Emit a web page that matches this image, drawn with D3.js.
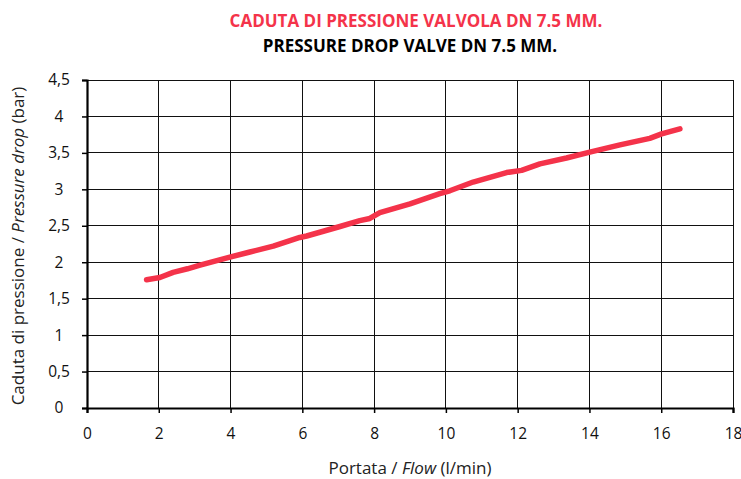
<!DOCTYPE html>
<html>
<head>
<meta charset="utf-8">
<script src="https://cdn.jsdelivr.net/npm/d3@7"></script>
<style>
  body { margin: 0; background: #fff; }
  svg { display: block; font-family: "Open Sans", "Noto Sans", sans-serif; }
</style>
</head>
<body>
<svg id="chart" width="741" height="479"></svg>
<script>
const titleIt = "CADUTA DI PRESSIONE VALVOLA DN 7.5 MM.";
const titleEn = "PRESSURE DROP VALVE DN 7.5 MM.";
const flow = [1.66, 2.03, 2.40, 2.80, 3.15, 3.98, 4.54, 5.19, 5.93, 6.12, 7.05, 7.60, 7.88, 8.16, 9.00, 9.83, 10.11, 10.76, 11.69, 12.11, 12.62, 13.36, 14.01, 14.85, 15.68, 16.01, 16.52];
const pressure = [1.76, 1.79, 1.86, 1.91, 1.96, 2.07, 2.14, 2.22, 2.34, 2.36, 2.49, 2.57, 2.60, 2.68, 2.80, 2.94, 2.98, 3.10, 3.23, 3.26, 3.35, 3.43, 3.51, 3.61, 3.70, 3.76, 3.83];
const xTicks = [0, 2, 4, 6, 8, 10, 12, 14, 16, 18];
const yTicks = [0, 0.5, 1, 1.5, 2, 2.5, 3, 3.5, 4, 4.5];

const svg = d3.select("#chart");
const x = d3.scaleLinear().domain([0, 18]).range([87, 733]);
const y = d3.scaleLinear().domain([0, 4.5]).range([408, 80]);
const fmt = v => String(v).replace(".", ",");

// grid
svg.append("g").selectAll("line").data(xTicks.slice(1)).join("line")
  .attr("x1", d => x(d)).attr("x2", d => x(d)).attr("y1", y(0)).attr("y2", y(4.5))
  .attr("stroke", "#111").attr("stroke-width", 1).attr("shape-rendering", "crispEdges");
svg.append("g").selectAll("line").data(yTicks.slice(1)).join("line")
  .attr("x1", x(0)).attr("x2", x(18)).attr("y1", d => y(d)).attr("y2", d => y(d))
  .attr("stroke", "#111").attr("stroke-width", 1).attr("shape-rendering", "crispEdges");

// axes
const xAxis = svg.append("g").attr("transform", `translate(0,${y(0)})`)
  .call(d3.axisBottom(x).tickValues(xTicks).tickSize(5).tickPadding(15).tickFormat(fmt));
const yAxis = svg.append("g").attr("transform", `translate(${x(0)},0)`)
  .call(d3.axisLeft(y).tickValues(yTicks).tickSize(5).tickPadding(0).tickFormat(fmt));
[xAxis, yAxis].forEach(g => {
  g.select(".domain").attr("stroke", "#000").attr("stroke-width", 2.2);
  g.selectAll(".tick line").attr("stroke", "#000").attr("stroke-width", 1.5);
  g.selectAll("text").attr("fill", "#111").style("font-size", "15.5px")
    .style("font-family", "'Open Sans', 'Noto Sans', sans-serif");
});
yAxis.selectAll("text").attr("text-anchor", "middle").attr("x", 59 - x(0));

// line
const pts = flow.map((f, i) => [f, pressure[i]]);
svg.append("path").datum(pts)
  .attr("d", d3.line().x(d => x(d[0])).y(d => y(d[1])))
  .attr("fill", "none").attr("stroke", "#f4334a").attr("stroke-width", 5.5)
  .attr("stroke-linecap", "round").attr("stroke-linejoin", "round");

// titles
svg.append("text").attr("x", 416).attr("y", 27).attr("text-anchor", "middle")
  .attr("fill", "#f4334a").style("font-weight", "bold").style("font-size", "17px").text(titleIt);
svg.append("text").attr("x", 410).attr("y", 52).attr("text-anchor", "middle")
  .attr("fill", "#000").style("font-weight", "bold").style("font-size", "17px").text(titleEn);

// axis titles
const xt = svg.append("text").attr("x", 410).attr("y", 474).attr("text-anchor", "middle")
  .attr("fill", "#222").style("font-size", "17px");
xt.append("tspan").text("Portata / ");
xt.append("tspan").style("font-style", "italic").text("Flow");
xt.append("tspan").text(" (l/min)");

const yt = svg.append("text").attr("transform", "translate(24,246) rotate(-90)")
  .attr("text-anchor", "middle").attr("fill", "#222").style("font-size", "17px");
yt.append("tspan").text("Caduta di pressione / ");
yt.append("tspan").style("font-style", "italic").text("Pressure drop");
yt.append("tspan").text(" (bar)");
</script>
</body>
</html>
